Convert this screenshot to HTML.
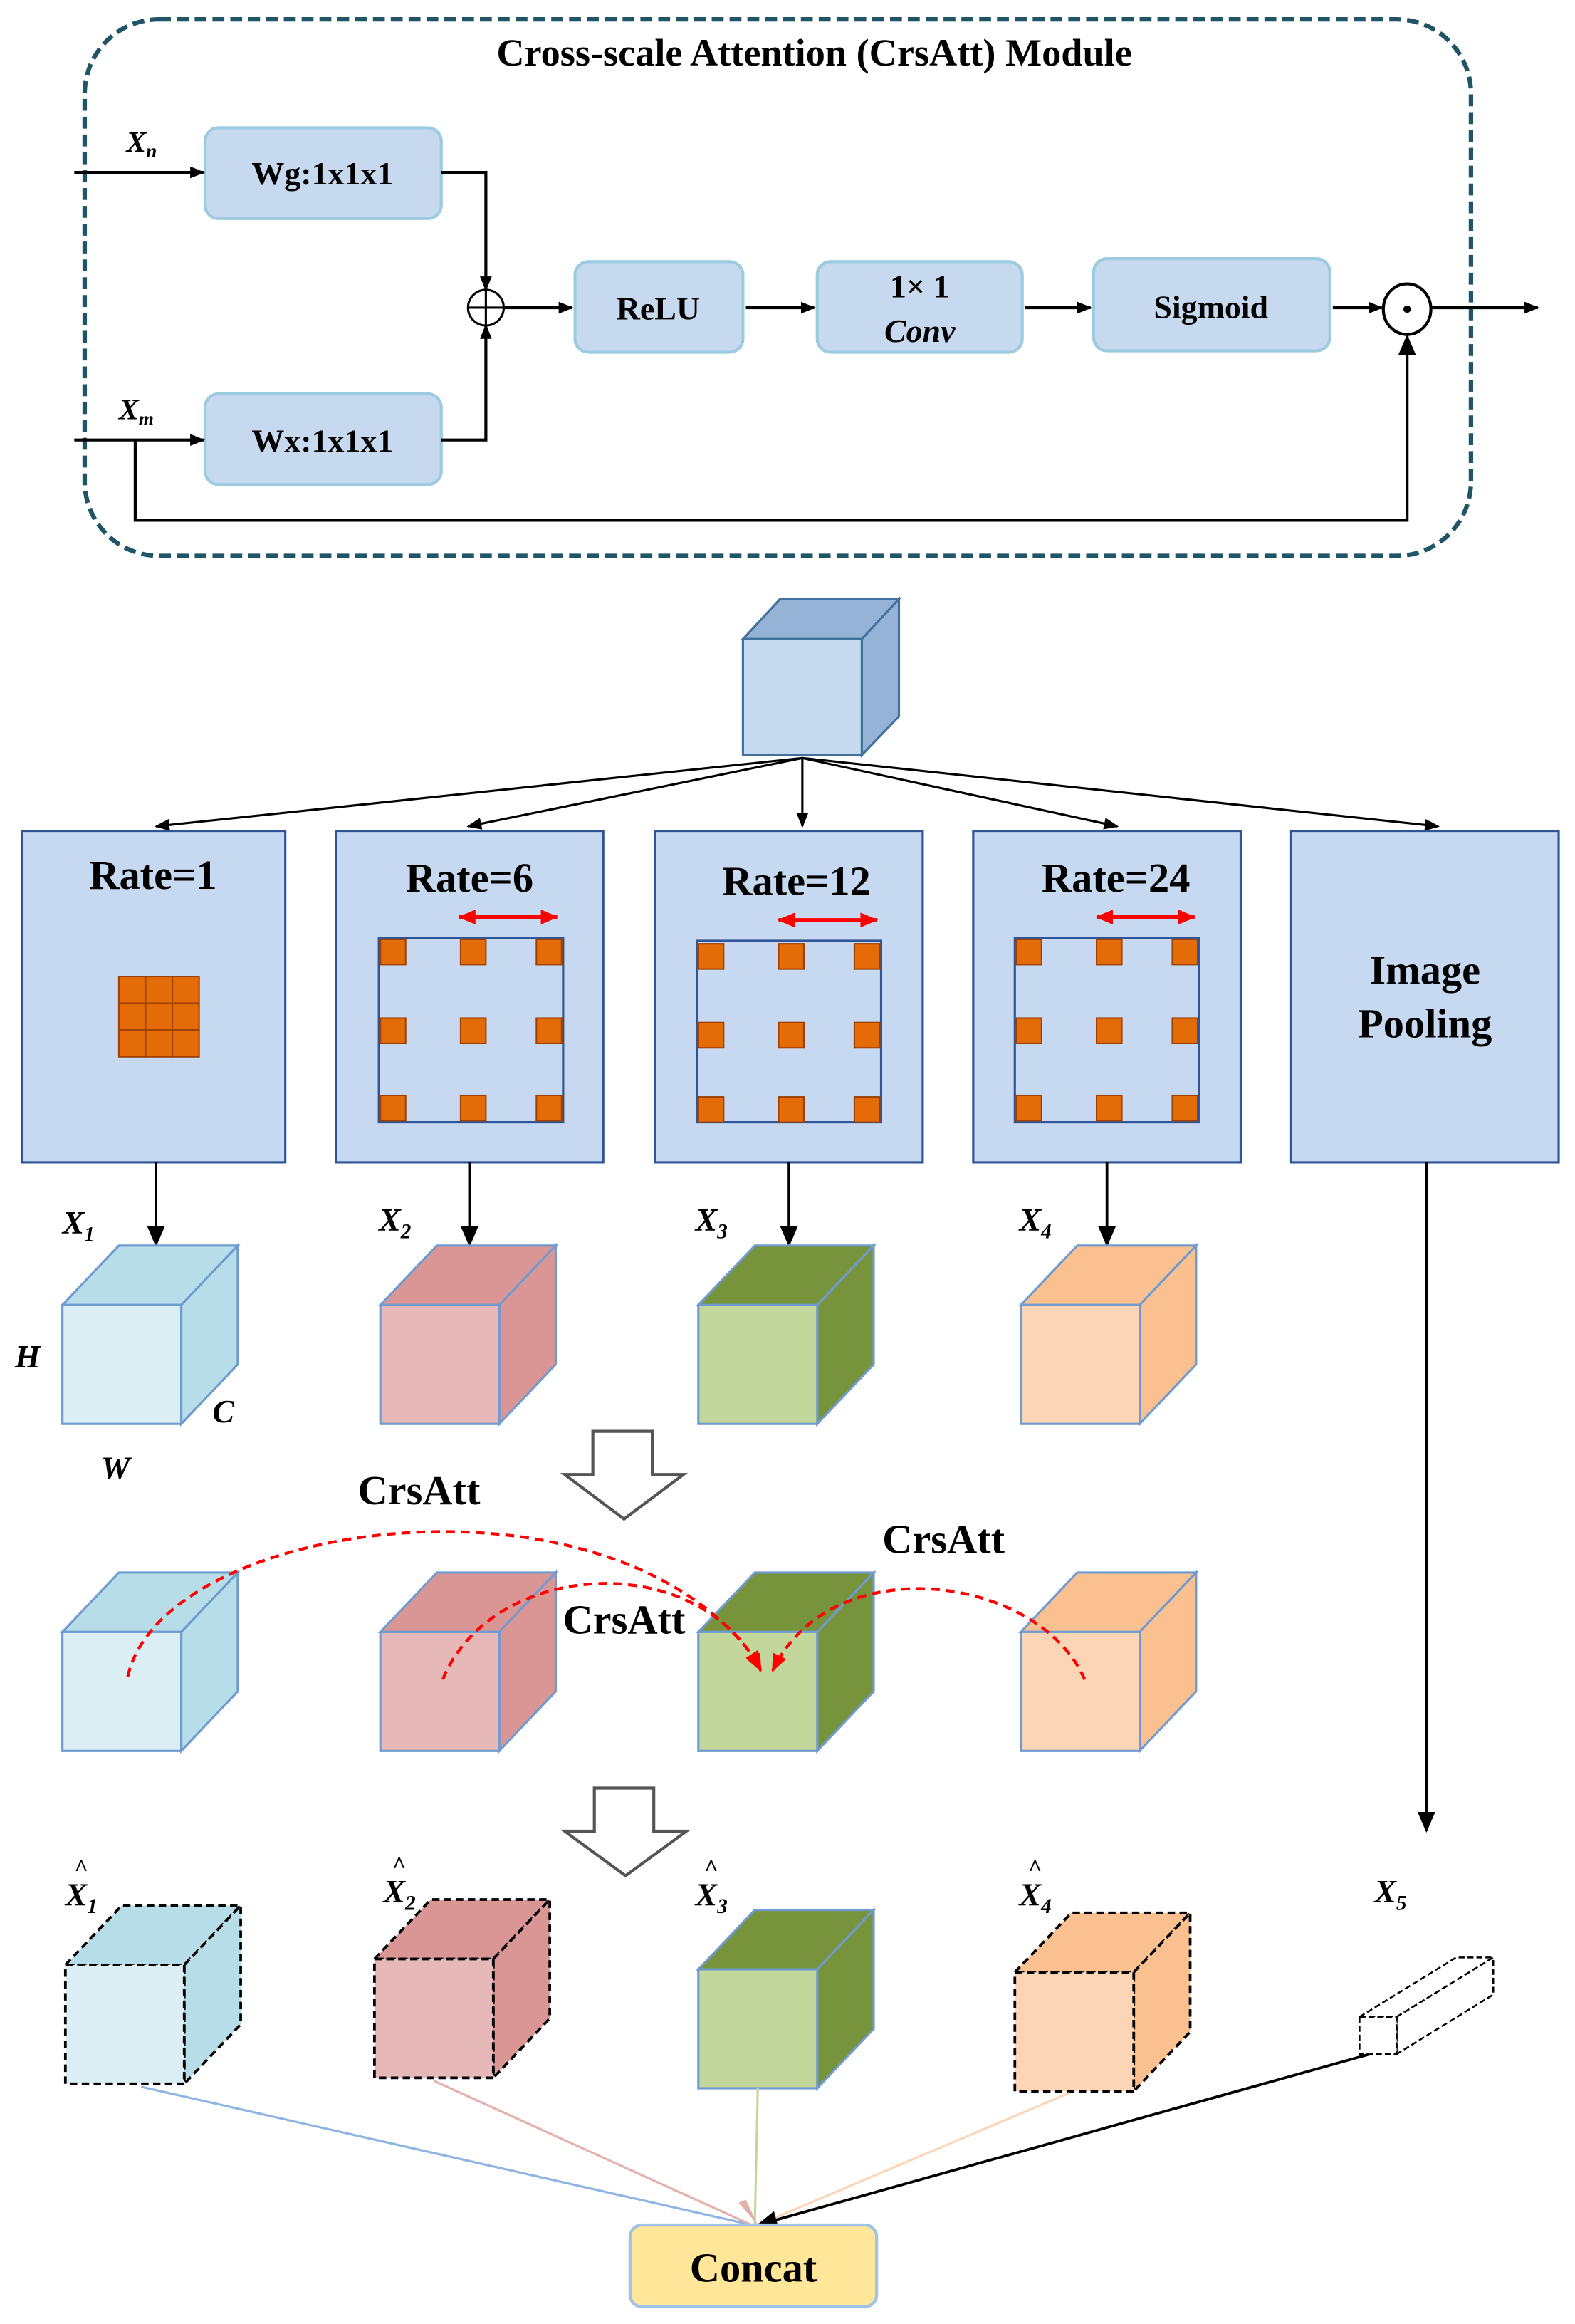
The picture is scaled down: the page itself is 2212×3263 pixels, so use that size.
<!DOCTYPE html>
<html><head><meta charset="utf-8"><style>
html,body{margin:0;padding:0;background:#fff;}
svg{display:block;}
text{font-family:"Liberation Serif",serif;font-weight:bold;fill:#000;}
</style></head><body>
<svg width="2212" height="3263" viewBox="0 0 1060 1563.6" preserveAspectRatio="none" xmlns="http://www.w3.org/2000/svg">
<defs>
<marker id="a" markerWidth="10" markerHeight="10" refX="9" refY="5" orient="auto" markerUnits="userSpaceOnUse"><path d="M0,1 L10,5 L0,9 z" fill="#000"/></marker>
<marker id="al" markerWidth="14" markerHeight="14" refX="13" refY="7" orient="auto" markerUnits="userSpaceOnUse"><path d="M0,1 L14,7 L0,13 z" fill="#000"/></marker>
<marker id="r" markerWidth="12" markerHeight="12" refX="11" refY="6" orient="auto-start-reverse" markerUnits="userSpaceOnUse"><path d="M0,1 L12,6 L0,11 z" fill="#f00"/></marker>
</defs>

<!-- Top module -->
<rect x="57" y="13" width="933" height="361" rx="50" fill="none" stroke="#1f5566" stroke-width="3" stroke-dasharray="8,4"/>
<text x="548" y="44" font-size="26" text-anchor="middle">Cross-scale Attention (CrsAtt) Module</text>
<g fill="#c6d9ef" stroke="#9ccbe0" stroke-width="2">
<rect x="138" y="86" width="159" height="61" rx="9"/>
<rect x="138" y="265" width="159" height="61" rx="9"/>
<rect x="387" y="176" width="113" height="61" rx="9"/>
<rect x="550" y="176" width="138" height="61" rx="9"/>
<rect x="736" y="174" width="159" height="62" rx="9"/>
</g>
<text x="217" y="124" font-size="22" text-anchor="middle">Wg:1x1x1</text>
<text x="217" y="304" font-size="22" text-anchor="middle">Wx:1x1x1</text>
<text x="443" y="215" font-size="22" text-anchor="middle">ReLU</text>
<text x="619" y="200" font-size="22" text-anchor="middle" font-weight="normal">1× 1</text>
<text x="619" y="230" font-size="22" text-anchor="middle" font-style="italic" font-weight="normal">Conv</text>
<text x="815" y="214" font-size="22" text-anchor="middle">Sigmoid</text>
<text x="85" y="102" font-size="20" font-style="italic">X<tspan font-size="13" dy="4">n</tspan></text>
<text x="80" y="282" font-size="20" font-style="italic">X<tspan font-size="13" dy="4">m</tspan></text>
<g stroke="#000" stroke-width="2" fill="none">
<line x1="50" y1="116" x2="137" y2="116" marker-end="url(#a)"/>
<line x1="50" y1="296" x2="137" y2="296" marker-end="url(#a)"/>
<polyline points="297,116 327,116 327,195" marker-end="url(#a)"/>
<polyline points="297,296 327,296 327,219" marker-end="url(#a)"/>
<circle cx="327" cy="207" r="12" stroke-width="1.5"/>
<line x1="315" y1="207" x2="339" y2="207" stroke-width="1.5"/>
<line x1="327" y1="195" x2="327" y2="219" stroke-width="1.5"/>
<line x1="339" y1="207" x2="385" y2="207" marker-end="url(#a)"/>
<line x1="502" y1="207" x2="548" y2="207" marker-end="url(#a)"/>
<line x1="690" y1="207" x2="734" y2="207" marker-end="url(#a)"/>
<line x1="897" y1="207" x2="930" y2="207" marker-end="url(#a)"/>
<ellipse cx="947" cy="208" rx="16" ry="17" stroke-width="2"/>
<line x1="963" y1="207" x2="1035" y2="207" marker-end="url(#a)"/>
<polyline points="91,296 91,350 947,350 947,226" marker-end="url(#al)"/>
</g>
<circle cx="947" cy="208" r="2.5" fill="#000"/>

<!-- Center cube -->
<g transform="translate(500,430)" stroke="#41719c" stroke-width="1.5">
<polygon points="0,0 25,-27 105,-27 80,0" fill="#95b3d7"/>
<polygon points="80,0 105,-27 105,52 80,78" fill="#95b3d7"/>
<rect x="0" y="0" width="80" height="78" fill="#c6d9ef"/>
</g>
<g stroke="#000" stroke-width="1.5">
<line x1="540" y1="510" x2="105" y2="556" marker-end="url(#a)"/>
<line x1="540" y1="510" x2="315" y2="556" marker-end="url(#a)"/>
<line x1="540" y1="510" x2="540" y2="556" marker-end="url(#a)"/>
<line x1="540" y1="510" x2="752" y2="556" marker-end="url(#a)"/>
<line x1="540" y1="510" x2="968" y2="556" marker-end="url(#a)"/>
</g>

<!-- Rate boxes -->
<g fill="#c6d9f0" stroke="#2f5597" stroke-width="1.5">
<rect x="15" y="559" width="177" height="223"/>
<rect x="226" y="559" width="180" height="223"/>
<rect x="441" y="559" width="180" height="223"/>
<rect x="655" y="559" width="180" height="223"/>
<rect x="869" y="559" width="180" height="223"/>
</g>
<text x="103" y="598" font-size="28" text-anchor="middle">Rate=1</text>
<text x="316" y="600" font-size="28" text-anchor="middle">Rate=6</text>
<text x="536" y="602" font-size="28" text-anchor="middle">Rate=12</text>
<text x="751" y="600" font-size="28" text-anchor="middle">Rate=24</text>
<text x="959" y="662" font-size="28" text-anchor="middle">Image</text>
<text x="959" y="698" font-size="28" text-anchor="middle">Pooling</text>
<g fill="#e36c09" stroke="#a04000" stroke-width="1">
<rect x="80" y="657" width="18" height="18"/><rect x="98" y="657" width="18" height="18"/><rect x="116" y="657" width="18" height="18"/>
<rect x="80" y="675" width="18" height="18"/><rect x="98" y="675" width="18" height="18"/><rect x="116" y="675" width="18" height="18"/>
<rect x="80" y="693" width="18" height="18"/><rect x="98" y="693" width="18" height="18"/><rect x="116" y="693" width="18" height="18"/>
</g>
<g fill="none" stroke="#2f5597" stroke-width="1.5">
<rect x="255" y="631" width="124" height="124"/>
<rect x="469" y="633" width="124" height="122"/>
<rect x="683" y="631" width="124" height="124"/>
</g>
<g fill="#e36c09" stroke="#a04000" stroke-width="1">
<rect x="256" y="632" width="17" height="17"/><rect x="310" y="632" width="17" height="17"/><rect x="361" y="632" width="17" height="17"/>
<rect x="256" y="685" width="17" height="17"/><rect x="310" y="685" width="17" height="17"/><rect x="361" y="685" width="17" height="17"/>
<rect x="256" y="737" width="17" height="17"/><rect x="310" y="737" width="17" height="17"/><rect x="361" y="737" width="17" height="17"/>
<rect x="470" y="635" width="17" height="17"/><rect x="524" y="635" width="17" height="17"/><rect x="575" y="635" width="17" height="17"/>
<rect x="470" y="688" width="17" height="17"/><rect x="524" y="688" width="17" height="17"/><rect x="575" y="688" width="17" height="17"/>
<rect x="470" y="738" width="17" height="17"/><rect x="524" y="738" width="17" height="17"/><rect x="575" y="738" width="17" height="17"/>
<rect x="684" y="632" width="17" height="17"/><rect x="738" y="632" width="17" height="17"/><rect x="789" y="632" width="17" height="17"/>
<rect x="684" y="685" width="17" height="17"/><rect x="738" y="685" width="17" height="17"/><rect x="789" y="685" width="17" height="17"/>
<rect x="684" y="737" width="17" height="17"/><rect x="738" y="737" width="17" height="17"/><rect x="789" y="737" width="17" height="17"/>
</g>
<g stroke="#f00" stroke-width="2.5">
<line x1="309" y1="617" x2="375" y2="617" marker-start="url(#r)" marker-end="url(#r)"/>
<line x1="524" y1="619" x2="590" y2="619" marker-start="url(#r)" marker-end="url(#r)"/>
<line x1="738" y1="617" x2="804" y2="617" marker-start="url(#r)" marker-end="url(#r)"/>
</g>
<g stroke="#000" stroke-width="1.8">
<line x1="105" y1="782" x2="105" y2="838" marker-end="url(#al)"/>
<line x1="316" y1="782" x2="316" y2="838" marker-end="url(#al)"/>
<line x1="531" y1="782" x2="531" y2="838" marker-end="url(#al)"/>
<line x1="745" y1="782" x2="745" y2="838" marker-end="url(#al)"/>
<line x1="960" y1="782" x2="960" y2="1232" marker-end="url(#al)"/>
</g>
<g font-size="22" font-style="italic">
<text x="42" y="830">X<tspan font-size="14" dy="5">1</tspan></text>
<text x="255" y="828">X<tspan font-size="14" dy="5">2</tspan></text>
<text x="468" y="828">X<tspan font-size="14" dy="5">3</tspan></text>
<text x="686" y="828">X<tspan font-size="14" dy="5">4</tspan></text>
<text x="10" y="920">H</text>
<text x="143" y="957">C</text>
<text x="68" y="995">W</text>
</g>

<!-- Row 1 cubes -->
<g stroke="#6f9bd0" stroke-width="1.5">
<g transform="translate(42,878)"><polygon points="0,0 38,-40 118,-40 80,0" fill="#b7dde8"/><polygon points="80,0 118,-40 118,40 80,80" fill="#b7dde8"/><rect width="80" height="80" fill="#daeef3"/></g>
<g transform="translate(256,878)"><polygon points="0,0 38,-40 118,-40 80,0" fill="#d99694"/><polygon points="80,0 118,-40 118,40 80,80" fill="#d99694"/><rect width="80" height="80" fill="#e6b9b8"/></g>
<g transform="translate(470,878)"><polygon points="0,0 38,-40 118,-40 80,0" fill="#77933c"/><polygon points="80,0 118,-40 118,40 80,80" fill="#77933c"/><rect width="80" height="80" fill="#c3d69b"/></g>
<g transform="translate(687,878)"><polygon points="0,0 38,-40 118,-40 80,0" fill="#fac090"/><polygon points="80,0 118,-40 118,40 80,80" fill="#fac090"/><rect width="80" height="80" fill="#fbd5b5"/></g>
<!-- Row 2 -->
<g transform="translate(42,1098)"><polygon points="0,0 38,-40 118,-40 80,0" fill="#b7dde8"/><polygon points="80,0 118,-40 118,40 80,80" fill="#b7dde8"/><rect width="80" height="80" fill="#daeef3"/></g>
<g transform="translate(256,1098)"><polygon points="0,0 38,-40 118,-40 80,0" fill="#d99694"/><polygon points="80,0 118,-40 118,40 80,80" fill="#d99694"/><rect width="80" height="80" fill="#e6b9b8"/></g>
<g transform="translate(470,1098)"><polygon points="0,0 38,-40 118,-40 80,0" fill="#77933c"/><polygon points="80,0 118,-40 118,40 80,80" fill="#77933c"/><rect width="80" height="80" fill="#c3d69b"/></g>
<g transform="translate(687,1098)"><polygon points="0,0 38,-40 118,-40 80,0" fill="#fac090"/><polygon points="80,0 118,-40 118,40 80,80" fill="#fac090"/><rect width="80" height="80" fill="#fbd5b5"/></g>
<!-- Row 3 -->
<g transform="translate(470,1325)"><polygon points="0,0 38,-40 118,-40 80,0" fill="#77933c"/><polygon points="80,0 118,-40 118,40 80,80" fill="#77933c"/><rect width="80" height="80" fill="#c3d69b"/></g>
</g>
<g stroke="#000" stroke-width="1.8" stroke-dasharray="5,3">
<g transform="translate(44,1322)"><polygon points="0,0 38,-40 118,-40 80,0" fill="#b7dde8"/><polygon points="80,0 118,-40 118,40 80,80" fill="#b7dde8"/><rect width="80" height="80" fill="#daeef3"/></g>
<g transform="translate(252,1318)"><polygon points="0,0 38,-40 118,-40 80,0" fill="#d99694"/><polygon points="80,0 118,-40 118,40 80,80" fill="#d99694"/><rect width="80" height="80" fill="#e6b9b8"/></g>
<g transform="translate(683,1327)"><polygon points="0,0 38,-40 118,-40 80,0" fill="#fac090"/><polygon points="80,0 118,-40 118,40 80,80" fill="#fac090"/><rect width="80" height="80" fill="#fbd5b5"/></g>
<g transform="translate(915,1357)" stroke-width="1.2" stroke-dasharray="4,2"><polygon points="0,0 65,-40 90,-40 25,0" fill="#fff"/><polygon points="25,0 90,-40 90,-15 25,25" fill="#fff"/><rect width="25" height="25" fill="#fff"/></g>
</g>

<!-- Hollow arrows -->
<polygon points="399,963 439,963 439,992 460,992 420,1022 380,992 399,992" fill="#fff" stroke="#555" stroke-width="2"/>
<polygon points="400,1203 440,1203 440,1232 462,1232 421,1262 380,1232 400,1232" fill="#fff" stroke="#555" stroke-width="2"/>

<!-- CrsAtt curves -->
<g fill="none" stroke="#f00" stroke-width="2" stroke-dasharray="6,4">
<path d="M86,1128 C110,1020 420,980 512,1122" marker-end="url(#r)"/>
<path d="M298,1130 C330,1050 470,1040 512,1124" marker-end="url(#r)"/>
<path d="M730,1130 C700,1060 560,1040 520,1124" marker-end="url(#r)"/>
</g>
<text x="282" y="1012" font-size="28" text-anchor="middle">CrsAtt</text>
<text x="420" y="1099" font-size="28" text-anchor="middle">CrsAtt</text>
<text x="635" y="1045" font-size="28" text-anchor="middle">CrsAtt</text>

<!-- Hat labels -->
<g font-size="22" font-style="italic">
<text x="44" y="1282">X<tspan font-size="14" dy="5">1</tspan></text><text x="50" y="1262" font-size="16" font-style="normal">^</text>
<text x="258" y="1280">X<tspan font-size="14" dy="5">2</tspan></text><text x="264" y="1260" font-size="16" font-style="normal">^</text>
<text x="468" y="1282">X<tspan font-size="14" dy="5">3</tspan></text><text x="474" y="1262" font-size="16" font-style="normal">^</text>
<text x="686" y="1282">X<tspan font-size="14" dy="5">4</tspan></text><text x="692" y="1262" font-size="16" font-style="normal">^</text>
<text x="925" y="1280">X<tspan font-size="14" dy="5">5</tspan></text>
</g>

<!-- Concat lines -->
<line x1="95" y1="1404" x2="506" y2="1497" stroke="#8eb4e3" stroke-width="1.5"/>
<line x1="292" y1="1400" x2="506" y2="1497" stroke="#e6b0aa" stroke-width="1.5"/>
<line x1="510" y1="1405" x2="508" y2="1497" stroke="#c3d69b" stroke-width="1.5"/>
<line x1="720" y1="1408" x2="510" y2="1497" stroke="#fbd5b5" stroke-width="1.5"/>
<polygon points="497,1482 510,1497 502,1480" fill="#e6b0aa"/>
<line x1="922" y1="1382" x2="510" y2="1497" stroke="#000" stroke-width="1.8" marker-end="url(#al)"/>
<rect x="424" y="1497" width="166" height="55" rx="8" fill="#ffe699" stroke="#9dc3e6" stroke-width="2"/>
<text x="507" y="1535" font-size="28" text-anchor="middle">Concat</text>
</svg>
</body></html>
